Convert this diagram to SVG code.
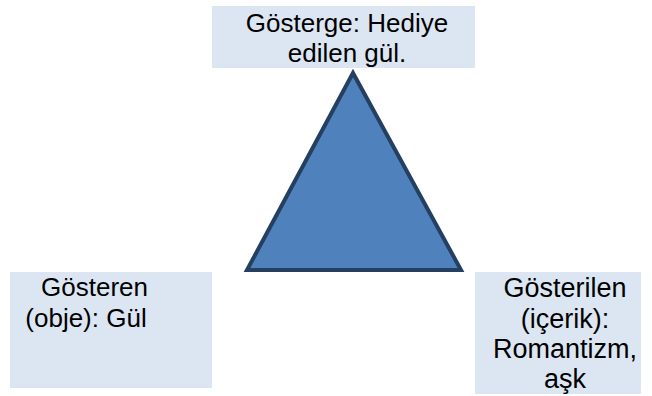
<svg xmlns="http://www.w3.org/2000/svg" width="652" height="396" viewBox="0 0 652 396">
<style>
.box{fill:#DCE6F2;}
.t{font-family:"Liberation Sans",Arial,sans-serif;font-size:26px;fill:#000;text-anchor:middle;}
.r{font-size:27px;}
.tri{fill:#4F81BD;stroke:#243F60;stroke-width:4;stroke-linejoin:miter;}
</style>
<rect width="652" height="396" fill="#fff"/>
<g id="connectors"></g>
<g id="triangle">
<polygon class="tri" points="353,73 247,270 461,270"/>
</g>
<g id="top">
<rect class="box" x="212" y="6" width="263" height="62"/>
<text class="t" x="347" y="32">Gösterge: Hediye</text>
<text class="t" x="347" y="62">edilen gül.</text>
</g>
<g id="left">
<rect class="box" x="10" y="272" width="202" height="116"/>
<text class="t" x="94.5" y="296">Gösteren</text>
<text class="t" x="86" y="327">(obje): Gül</text>
</g>
<g id="right">
<rect class="box" x="475" y="272" width="166" height="122"/>
<text class="t r" x="565" y="297">Gösterilen</text>
<text class="t r" x="565" y="327.5">(içerik):</text>
<text class="t r" x="565" y="358">Romantizm,</text>
<text class="t r" x="565" y="388">aşk</text>
</g>
</svg>
